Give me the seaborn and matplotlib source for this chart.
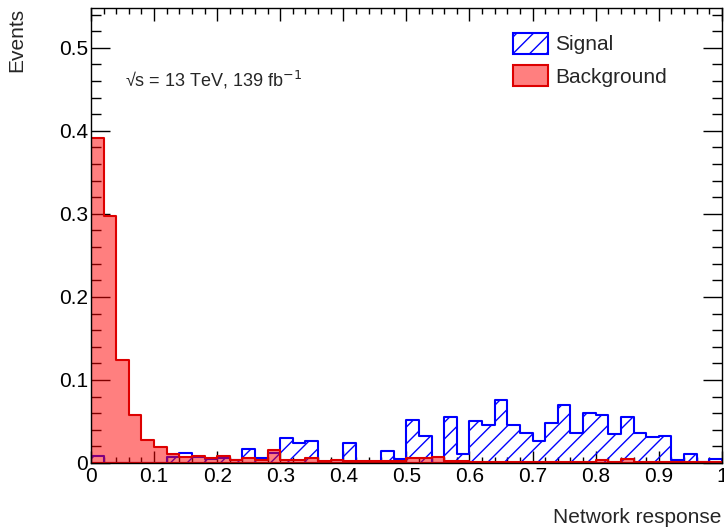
import pandas as pd
import seaborn as sns
import matplotlib.pyplot as plt
from matplotlib.patches import Patch
from matplotlib.ticker import MultipleLocator

# 50 bins of width 0.02 on [0, 1]
bin_edges = [round(i * 0.02, 2) for i in range(51)]
bin_centers = [round(i * 0.02 + 0.01, 3) for i in range(50)]

signal = [0.0088, 0.0, 0.0, 0.0, 0.0, 0.0, 0.007, 0.0117, 0.007, 0.005,
          0.006, 0.004, 0.0165, 0.0056, 0.012, 0.030, 0.0237, 0.027, 0.0, 0.0,
          0.024, 0.0, 0.0, 0.015, 0.0048, 0.052, 0.032, 0.0, 0.055, 0.0112,
          0.051, 0.0454, 0.0759, 0.0454, 0.0365, 0.026, 0.0478, 0.0703, 0.0357, 0.0598,
          0.0582, 0.0349, 0.055, 0.0357, 0.031, 0.0325, 0.0036, 0.0108, 0.0015, 0.0044]

background = [0.391, 0.297, 0.124, 0.058, 0.028, 0.019, 0.0105, 0.0076, 0.008, 0.0056,
              0.0084, 0.0036, 0.0064, 0.0036, 0.0157, 0.004, 0.003, 0.006, 0.0024, 0.0036,
              0.0024, 0.002, 0.002, 0.002, 0.002, 0.0064, 0.0064, 0.007, 0.002, 0.002,
              0.0015, 0.001, 0.001, 0.001, 0.001, 0.001, 0.001, 0.001, 0.001, 0.001,
              0.0036, 0.001, 0.0052, 0.001, 0.001, 0.001, 0.001, 0.001, 0.001, 0.001]

x_ticks = [0, 0.1, 0.2, 0.3, 0.4, 0.5, 0.6, 0.7, 0.8, 0.9, 1.0]
x_labels = ['0', '0.1', '0.2', '0.3', '0.4', '0.5', '0.6', '0.7', '0.8', '0.9', '1']
y_ticks = [0, 0.1, 0.2, 0.3, 0.4, 0.5]
y_labels = ['0', '0.1', '0.2', '0.3', '0.4', '0.5']

df = pd.DataFrame({'response': bin_centers, 'signal': signal, 'background': background})

sns.set_style('ticks')
plt.rcParams['font.family'] = ['Liberation Sans', 'DejaVu Sans']

fig = plt.figure(figsize=(7.24, 5.29), dpi=100)
ax = fig.add_axes([0.1257, 0.1248, 0.8713, 0.8602])

sns.histplot(data=df, x='response', weights='signal', bins=bin_edges, element='step',
             fill=True, color='#0000ff', facecolor='none', edgecolor='#0000ff', hatch='//',
             linewidth=1.5, ax=ax)
sns.histplot(data=df, x='response', weights='background', bins=bin_edges, element='step',
             fill=True, color='#dd0000', facecolor=(1, 0, 0, 0.5), edgecolor='#dd0000',
             linewidth=1.5, ax=ax)

ax.set_xlim(0, 1)
ax.set_ylim(0, 0.548)
ax.xaxis.set_minor_locator(MultipleLocator(0.02))
ax.yaxis.set_minor_locator(MultipleLocator(0.02))
ax.set_xticks(x_ticks)
ax.set_xticklabels(x_labels)
ax.set_yticks(y_ticks)
ax.set_yticklabels(y_labels)
ax.tick_params(which='both', direction='in', top=True, right=True, labelsize=15,
               colors='black', width=1)
ax.tick_params(axis='x', which='major', length=9, pad=3)
ax.tick_params(axis='x', which='minor', length=4.5)
ax.tick_params(axis='y', which='major', length=14, pad=2)
ax.tick_params(axis='y', which='minor', length=7)
for s in ax.spines.values():
    s.set_linewidth(1)
    s.set_color('black')

ax.set_xlabel('Network response', fontsize=15, loc='right')
ax.xaxis.set_label_coords(1.0, -0.1)
ax.set_ylabel('Events', fontsize=15, loc='top')
ax.yaxis.set_label_coords(-0.102, 1.0)

ax.text(0.054, 0.461, '\u221as = 13 TeV, 139 fb$^{-1}$', fontsize=13,
        va='center', ha='left')

handles = [Patch(facecolor='none', edgecolor='#0000ff', hatch='//', linewidth=1.5),
           Patch(facecolor=(1, 0, 0, 0.5), edgecolor='#dd0000', linewidth=1.5)]
ax.legend(handles, ['Signal', 'Background'], loc='upper left',
          bbox_to_anchor=(0.669, 0.946), frameon=False, fontsize=15,
          borderaxespad=0, borderpad=0,
          handlelength=1.67, handleheight=1.2, labelspacing=0.52, handletextpad=0.35)

fig.savefig('out.png', dpi=100)
